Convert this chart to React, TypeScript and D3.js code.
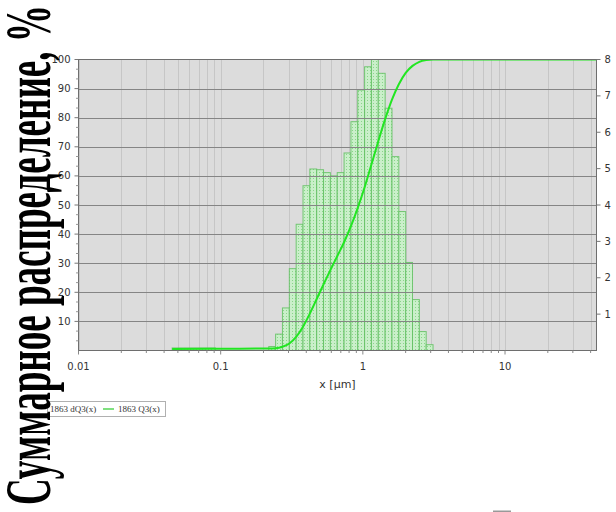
import { useLayoutEffect, useRef, useState } from 'react'
import * as d3 from 'd3'

// bin edges of dQ3 histogram (µm)
const binLo = [0.0456, 0.218, 0.2434, 0.272, 0.304, 0.3396, 0.3794, 0.4238, 0.4735, 0.529, 0.591, 0.6603, 0.7378, 0.8244, 0.9208, 1.029, 1.149, 1.284, 1.435, 1.603, 1.791, 2.001, 2.235, 2.497, 2.79]
const binHi = [0.0918, 0.2434, 0.272, 0.304, 0.3396, 0.3794, 0.4238, 0.4735, 0.529, 0.591, 0.6603, 0.7378, 0.8244, 0.9208, 1.029, 1.149, 1.284, 1.435, 1.603, 1.791, 2.001, 2.235, 2.497, 2.79, 3.117]
// dQ3 per bin (right axis)
const dQ3 = [0.07, 0.11, 0.45, 1.17, 2.25, 3.47, 4.53, 4.99, 4.97, 4.89, 4.8, 4.89, 5.43, 6.29, 7.16, 7.8, 8.0, 7.62, 6.66, 5.33, 3.82, 2.42, 1.4, 0.52, 0.16]

// cumulative Q3 curve (left axis)
const q3X = [0.0456, 0.0918, 0.218, 0.2434, 0.272, 0.304, 0.3396, 0.3794, 0.4238, 0.4735, 0.529, 0.591, 0.6603, 0.7378, 0.8244, 0.9208, 1.029, 1.149, 1.284, 1.435, 1.603, 1.791, 2.001, 2.235, 2.497, 2.79, 3.117, 44]
const q3Y = [0.5, 0.6, 0.7, 0.8, 1.3, 2.4, 4.7, 8.2, 12.7, 17.7, 22.7, 27.6, 32.4, 37.2, 42.7, 49.0, 56.1, 63.9, 71.9, 79.5, 86.2, 91.5, 95.4, 97.8, 99.2, 99.8, 100, 100]

const xMajor = [0.01, 0.1, 1, 10]
const xMajorLabels = ['0.01', '0.1', '1', '10']
const leftTicks = [10, 20, 30, 40, 50, 60, 70, 80, 90, 100]
const rightTicks = [1, 2, 3, 4, 5, 6, 7, 8]

const W = 616
const H = 512
const L = 78.5, R = 596.5, T = 59.5, B = 350.5
const TITLE_LEN = 500

export default function App() {
  const titleRef = useRef<SVGTextElement>(null)
  const [titleScale, setTitleScale] = useState(1)

  // squeeze the big title to the height of the picture
  useLayoutEffect(() => {
    if (!titleRef.current) return
    const len = titleRef.current.getComputedTextLength()
    if (len > 0) setTitleScale(TITLE_LEN / len)
  }, [])

  const x = d3.scaleLog().domain([0.01, 44]).range([L, R])
  const yL = d3.scaleLinear().domain([0, 100]).range([B, T])
  const yR = d3.scaleLinear().domain([0, 8]).range([B, T])

  const minor = x.ticks()
  const leftMinor = d3.range(0, 100, 10 / 3).filter(v => Math.abs(v % 10) > 0.5 && Math.abs(v % 10) < 9.5)

  const line = d3.line<number>()
    .x((_, i) => x(q3X[i]))
    .y(d => yL(d))
    .curve(d3.curveMonotoneX)

  const tickFont = { fontFamily: 'DejaVu Sans, Verdana, sans-serif', fontSize: 10, fill: '#333' }

  return (
    <div style={{ position: 'absolute', left: 0, top: 0 }}>
      <svg width={W} height={H} style={{ display: 'block', background: '#fff' }}>
        <defs>
          <pattern id="dots" width={3} height={3} patternUnits="userSpaceOnUse">
            <rect width={3} height={3} fill="#caefca" />
            <rect x={1} y={1} width={1} height={1} fill="#8ad68a" />
          </pattern>
          <clipPath id="plot">
            <rect x={L} y={T} width={R - L} height={B - T} />
          </clipPath>
        </defs>

        {/* plot background */}
        <rect x={L} y={T} width={R - L} height={B - T} fill="#dcdcdc" />

        {/* vertical log grid */}
        {minor.map((v, i) => (
          <line key={'vg' + i} x1={Math.round(x(v)) + 0.5} x2={Math.round(x(v)) + 0.5} y1={T} y2={B} stroke="#c6c6c6" />
        ))}

        {/* histogram */}
        <g clipPath="url(#plot)">
          {dQ3.map((v, i) => (
            <rect key={'b' + i}
              x={x(binLo[i])} width={x(binHi[i]) - x(binLo[i])}
              y={yR(v)} height={B - yR(v)}
              fill="url(#dots)" stroke="#62c062" strokeWidth={1} strokeOpacity={0.85} />
          ))}
        </g>

        {/* horizontal grid */}
        {leftTicks.slice(0, -1).map(v => (
          <line key={'hg' + v} x1={L} x2={R} y1={Math.round(yL(v)) + 0.5} y2={Math.round(yL(v)) + 0.5} stroke="#858585" />
        ))}

        {/* Q3 curve */}
        <path d={line(q3Y) || ''} fill="none" stroke="#22e622" strokeWidth={2} clipPath="url(#plot)" />

        {/* frame */}
        <rect x={L} y={T} width={R - L} height={B - T} fill="none" stroke="#6e6e6e" />

        {/* left axis */}
        {leftTicks.map(v => (
          <g key={'lt' + v}>
            <line x1={L - 4} x2={L} y1={yL(v)} y2={yL(v)} stroke="#777" />
            <text x={L - 8} y={yL(v)} dy="0.35em" textAnchor="end" {...tickFont}>{v}</text>
          </g>
        ))}
        {leftMinor.map((v, i) => (
          <line key={'lm' + i} x1={L - 2.5} x2={L} y1={yL(v)} y2={yL(v)} stroke="#999" />
        ))}

        {/* right axis */}
        {rightTicks.map(v => (
          <g key={'rt' + v}>
            <line x1={R} x2={R + 4} y1={yR(v)} y2={yR(v)} stroke="#777" />
            <text x={R + 8} y={yR(v)} dy="0.35em" textAnchor="start" {...tickFont}>{v}</text>
          </g>
        ))}

        {/* bottom axis */}
        {minor.map((v, i) => (
          <line key={'bm' + i} x1={x(v)} x2={x(v)} y1={B} y2={B + (xMajor.includes(v) ? 4 : 2.5)} stroke="#888" />
        ))}
        {xMajor.map((v, i) => (
          <text key={'bl' + i} x={x(v)} y={B + 16} dy="0.35em" textAnchor="middle" {...tickFont}>{xMajorLabels[i]}</text>
        ))}
        <text x={(L + R) / 2} y={B + 34} dy="0.35em" textAnchor="middle" fontFamily="DejaVu Sans, Verdana, sans-serif" fontSize={11} fill="#333">x [µm]</text>

        {/* legend */}
        <rect x={47.5} y={401.5} width={118} height={15} fill="#fff" stroke="#b0b0b0" />
        <text x={50} y={412} fontFamily="Liberation Serif, Times New Roman, serif" fontSize={9} fill="#333">1863 dQ3(x)</text>
        <line x1={103} x2={114} y1={409} y2={409} stroke="#80e080" strokeWidth={2} />
        <text x={118} y={412} fontFamily="Liberation Serif, Times New Roman, serif" fontSize={9} fill="#333">1863 Q3(x)</text>

        {/* y title */}
        <text ref={titleRef} transform={`translate(50,505) rotate(-90) scale(${titleScale},1)`}
          fontFamily="Liberation Serif, Times New Roman, serif" fontWeight="bold" fontSize={66}
          fill="#000">Суммарное распределение, %</text>

        <rect x={493} y={510.5} width={18} height={1.5} fill="#999" />
      </svg>
    </div>
  )
}
